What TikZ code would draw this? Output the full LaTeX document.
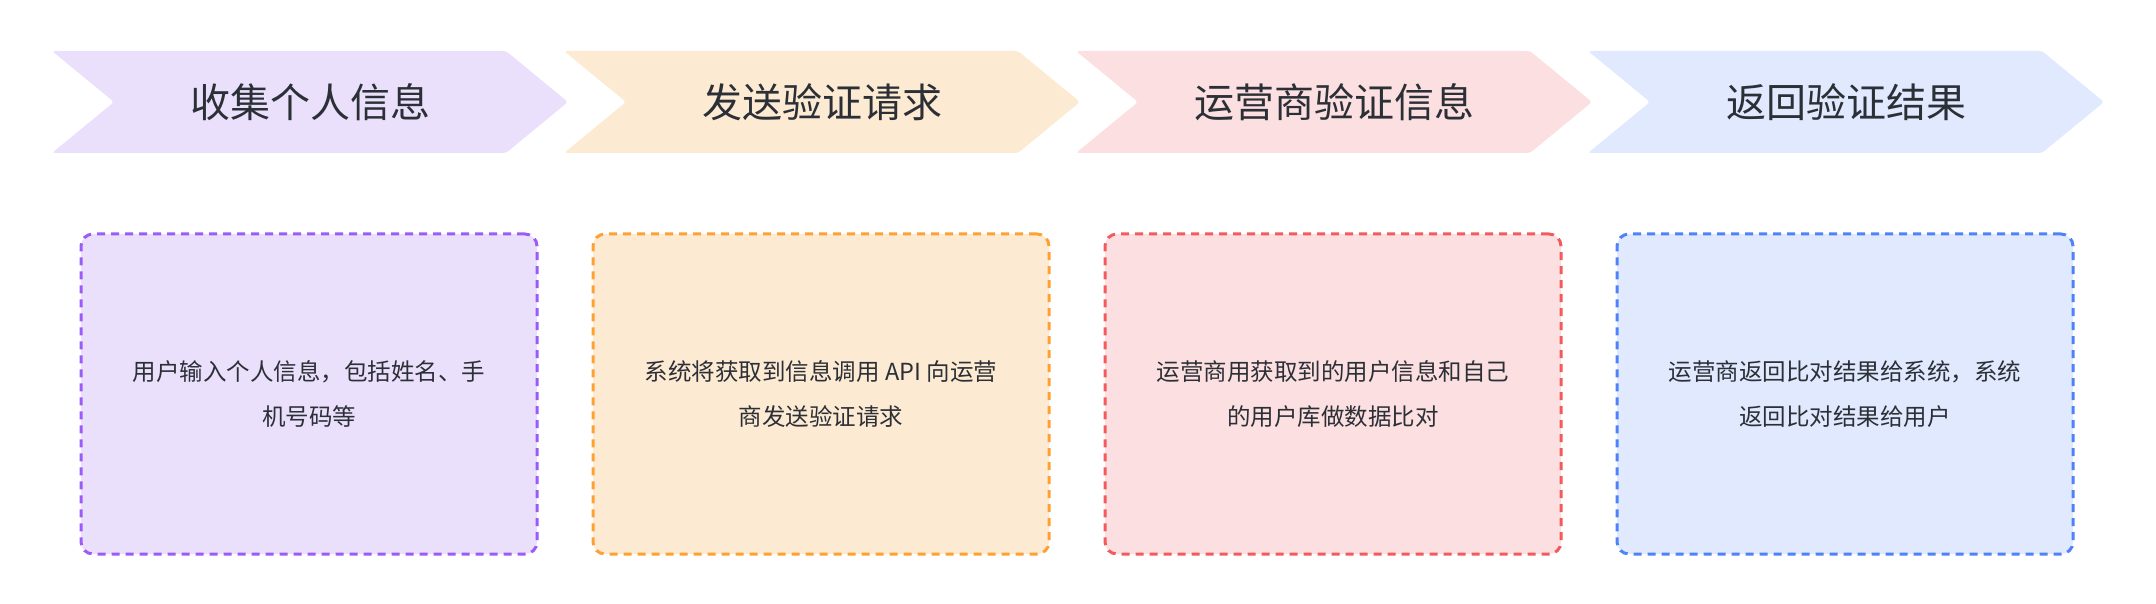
\documentclass[tikz,border=0pt]{standalone}
\usepackage{fontspec}
\setmainfont{Noto Sans CJK SC}
\begin{document}
\begin{tikzpicture}[x=1pt,y=-1pt]
\definecolor{tx}{HTML}{2B2F36}
\definecolor{pf}{HTML}{EBE0FC}\definecolor{pd}{HTML}{9B5CF6}
\definecolor{of}{HTML}{FDEAD3}\definecolor{od}{HTML}{FFA033}
\definecolor{rf}{HTML}{FCE0E1}\definecolor{rd}{HTML}{F25A5C}
\definecolor{bf}{HTML}{E0E9FE}\definecolor{bd}{HTML}{5082F7}
\tikzset{chev/.style={rounded corners=3pt},
 title/.style={text=tx,font=\fontsize{40}{48}\selectfont,anchor=center},
 box/.style={draw,dashed,dash pattern=on 8pt off 6pt,line width=3pt,rounded corners=12pt,minimum width=456pt,minimum height=320pt,inner sep=0pt},
 body/.style={text=tx,font=\fontsize{23.5}{45}\selectfont,align=center}}
\useasboundingbox (0,0) rectangle (2156,604);
\foreach \i/\f/\d/\t/\b in {0/pf/pd/收集个人信息/{用户输入个人信息，包括姓名、手\\机号码等},1/of/od/发送验证请求/{系统将获取到信息调用 API 向运营\\商发送验证请求},2/rf/rd/运营商验证信息/{运营商用获取到的用户信息和自己\\的用户库做数据比对},3/bf/bd/返回验证结果/{运营商返回比对结果给系统，系统\\返回比对结果给用户}}{
 \pgfmathsetmacro\xo{52+512*\i}
 \fill[\f,chev] (\xo,51) -- (\xo+454,51) -- (\xo+516,102) -- (\xo+454,153) -- (\xo,153) -- (\xo+62,102) -- cycle;
 \node[title] (t\i) at (\xo+258,102) {\t};
 \node[box,draw=\d,fill=\f] (b\i) at (\xo+257,394) {};
 \node[body] (c\i) at (b\i.center) {\b};
}
\end{tikzpicture}
\end{document}
